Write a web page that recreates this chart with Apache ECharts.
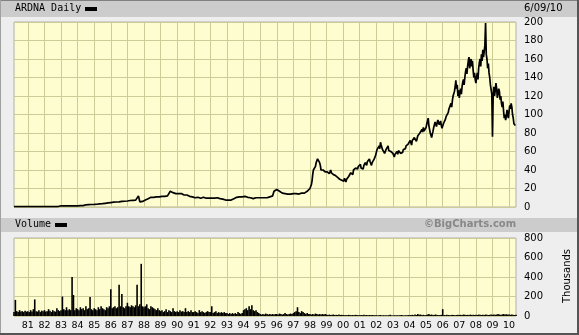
<!DOCTYPE html>
<html><head><meta charset="utf-8">
<script src="https://cdn.jsdelivr.net/npm/echarts@6/dist/echarts.min.js"></script>
<style>html,body{margin:0;padding:0;background:#eeeeee}#c{width:579px;height:335px}</style>
</head><body><div id="c"></div>
<script>
// Monthly categories Mar 1980 .. Jun 2010 (x axis), price monthly to 1997 then semi-monthly
const startYear = 1980, startMonth = 3, monthCount = 364;
const yearTickLabels = ['81','82','83','84','85','86','87','88','89','90','91','92','93','94','95','96','97','98','99','00','01','02','03','04','05','06','07','08','09','10'];
const priceYAxisTicks = [0,20,40,60,80,100,120,140,160,180,200];
const volumeYAxisTicks = [0,200,400,600,800];

// monthly closes, Mar 1980 .. Dec 1997
const priceMonthly = [
  0.5,0.5,0.5,0.5,0.5,0.5,0.5,0.5,0.5,0.5,
  0.5,0.5,0.5,0.5,0.5,0.5,0.5,0.5,0.5,0.5,0.5,0.5,
  0.5,0.5,0.5,0.5,0.5,0.5,0.5,0.5,0.5,0.5,0.5,1.2,
  1.3,1.3,1.3,1.3,1.3,1.3,1.3,1.3,1.3,1.3,1.3,1.3,
  1.3,1.3,1.4,1.5,1.5,2.2,2.4,2.5,2.6,2.6,2.7,2.8,
  2.8,3.0,3.0,3.2,3.4,3.5,3.6,3.8,4.0,4.2,4.4,4.6,
  4.8,5.0,5.2,5.0,5.4,5.6,5.5,5.8,6.0,5.8,6.2,6.4,
  6.5,6.8,7.0,6.8,7.2,7.5,7.4,8.0,12.0,5.5,5.5,6.0,
  6.5,7.5,8,9,10,10.5,10,10.5,11,11,10.5,11,
  11,11.5,11,11.5,12,12,14,17,16,15.5,15,14.5,
  15,14.5,14,14.5,13.5,13,12.5,13,12,11.5,11,11,
  10.5,10,10,10.5,10,9.5,10,10.5,10,9.5,9.5,9.5,
  9.5,9.5,9,9.5,9,10,9.5,9,8.5,8.5,8,7.5,
  7.5,7.5,7,7.5,8,9,10,10.5,11,11,10.5,11,
  11,11.5,11,10.5,11,10,8.5,9,9.5,10,9.5,10,
  10,10,10.5,10,10.5,10,10,11,11,12,17,18,
  19,18,17,16,15,14,14.5,14,14,14,14,14.5,
  14.5,14,14.5,14.5,14,14.5,15,15.5,15,16,17,18
];
// semi-monthly values, Jan 1998 .. early Jun 2010
const priceSemi1998to2003 = [
  20,22,24,28, 35,40,42,38, 44,48,46,52, 54,50,48,45, 40,42,38,40, 42,40,38,40,
  40,38,37,39, 36,38,40,37, 38,36,35,37, 36,34,35,33, 32,34,31,30, 32,30,29,31,
  30,28,31,29, 27,30,32,30, 33,35,34,37, 36,38,35,40, 41,39,42,44, 43,41,44,42,
  44,46,42,40, 43,41,45,47, 48,46,45,49, 50,48,52,49, 47,45,48,46, 50,52,54,56,
  58,62,64,60, 66,63,70,67, 65,62,60,63, 58,60,62,64, 63,66,61,59, 62,60,58,61,
  58,56,54,57, 55,58,60,57, 61,59,62,58, 57,60,59,62, 64,61,63,66, 64,67,68,66
];
const priceSemi2004to2010 = [
  69,72,70,67, 72,74,71,75, 76,73,71,74, 77,79,76,80, 82,79,84,81, 86,82,80,83,
  86,90,93,96, 88,84,80,78, 75,79,82,86, 88,92,90,87, 91,94,92,89, 90,93,88,85,
  86,90,88,92, 95,98,100,96, 102,106,104,108, 112,108,115,120, 118,125,130,137, 128,132,120,126,
  118,124,128,122, 130,135,138,132, 140,146,150,144, 152,158,162,150, 155,160,152,158, 148,140,145,138,
  134,140,145,138, 150,156,160,152, 165,158,170,162, 168,175,199,165, 160,150,155,145, 140,132,130,122,
  76,120,130,120, 126,134,128,118, 122,128,125,116, 120,112,108,114, 104,96,100,94, 98,105,100,96,
  104,110,106,112,108,100,96,90,92,88,88
];

const volume1980s = [
  40,165,50,40,60,45,50,40,55,45,
  50,40,60,45,70,170,50,45,60,40,55,50,
  60,45,50,70,55,40,60,50,45,80,60,50,
  60,200,70,60,90,60,70,60,400,215,60,80,
  70,60,90,70,80,60,100,70,80,195,70,60,
  80,70,60,90,70,100,80,70,60,90,80,100,
  275,80,90,100,80,90,320,100,225,90,80,100,
  135,100,90,110,100,90,110,320,100,120,535,100,
  90,100,120,80,70,100,90,80,70,60,80,60,
  50,60,40,50,70,40,60,50,40,80,50,40
];
const volume1990s = [
  50,40,60,45,50,40,80,40,50,40,60,40,
  40,50,40,30,60,40,50,40,30,40,50,40,
  40,100,30,40,50,30,40,30,40,30,40,30,
  30,20,30,20,30,20,30,20,40,30,20,30,
  60,70,80,60,100,70,110,60,50,60,40,30,
  20,15,20,15,25,20,15,20,15,20,15,20,
  20,15,25,20,15,20,30,20,15,20,25,20,
  30,40,50,90,40,30,50,40,30,20,30,20,
  20,15,20,15,25,20,15,20,15,20,15,20,
  15,10,15,10,12,15,10,12,10,15,10,12
];
const volume2000s = [
  10,8,10,8,12,10,8,10,8,12,10,8,
  8,10,8,12,8,10,8,10,8,10,8,8,
  8,6,8,10,6,8,6,8,6,8,12,6,
  6,8,6,8,6,8,10,8,6,8,6,10,
  8,10,12,8,15,10,20,12,15,10,12,8,
  10,15,20,12,15,10,12,15,10,8,10,12,
  70,10,8,12,10,8,10,12,10,8,10,12,
  10,12,10,15,12,10,12,10,15,10,12,10,
  12,10,15,12,10,12,10,15,12,10,12,15,
  12,15,12,15,20,15,12,15,20,15,18,15
];
const volume2010s = [15,12,15,12,10,12];

const volume = [].concat(volume1980s, volume1990s, volume2000s, volume2010s);
const semi = [].concat(priceSemi1998to2003, priceSemi2004to2010);
const pricePoints = priceMonthly.map((v, i) => [i, v])
  .concat(semi.map((v, j) => [priceMonthly.length + j / 2, v]));

const months = [];
for (let i = 0; i < monthCount; i++) {
  const m = startMonth - 1 + i;
  const y = startYear + Math.floor(m / 12);
  const mm = (m % 12) + 1;
  months.push(y + '-' + (mm < 10 ? '0' + mm : '' + mm));
}
const isJan = (idx, val) => val.slice(5) === '01';
const yearLabel = v => { const s = v.slice(2, 4); return yearTickLabels.indexOf(s) >= 0 ? s : ''; };

const gridColor = '#cccc99';
const plotBg = '#fdfdcf';
const fontF = 'DejaVu Sans';

const chart = echarts.init(document.getElementById('c'));
chart.setOption({
  backgroundColor: '#eeeeee',
  animation: false,
  grid: [
    {left: 14, top: 22, width: 502, height: 185, show: true, backgroundColor: plotBg, borderColor: '#b0b0b0', borderWidth: 1},
    {left: 14, top: 238, width: 502, height: 78, show: true, backgroundColor: plotBg, borderColor: '#b0b0b0', borderWidth: 1}
  ],
  xAxis: [
    {type: 'category', gridIndex: 0, data: months, boundaryGap: false,
     axisLine: {show: false}, axisTick: {show: false}, axisLabel: {show: false},
     splitLine: {show: true, interval: isJan, lineStyle: {color: gridColor, width: 1}}},
    {type: 'category', gridIndex: 1, data: months, boundaryGap: false,
     axisLine: {show: false}, axisTick: {show: false},
     axisLabel: {show: true, interval: isJan, formatter: yearLabel, margin: 5, color: '#000', fontFamily: fontF, fontSize: 9.5},
     splitLine: {show: true, interval: isJan, lineStyle: {color: gridColor, width: 1}}},
    {type: 'value', gridIndex: 0, min: 0, max: monthCount - 1, show: false}
  ],
  yAxis: [
    {type: 'value', gridIndex: 0, position: 'right', min: priceYAxisTicks[0], max: priceYAxisTicks[priceYAxisTicks.length-1], interval: 20,
     axisLine: {show: false}, axisTick: {show: false},
     axisLabel: {margin: 8, color: '#000', fontFamily: fontF, fontSize: 10},
     splitLine: {lineStyle: {color: gridColor, width: 1}}},
    {type: 'value', gridIndex: 1, position: 'right', min: volumeYAxisTicks[0], max: volumeYAxisTicks[volumeYAxisTicks.length-1], interval: 200,
     axisLine: {show: false}, axisTick: {show: false},
     axisLabel: {margin: 8, color: '#000', fontFamily: fontF, fontSize: 10},
     splitLine: {lineStyle: {color: gridColor, width: 1}}}
  ],
  series: [
    {type: 'line', xAxisIndex: 2, yAxisIndex: 0, data: pricePoints, showSymbol: false, symbol: 'none',
     lineStyle: {color: '#000', width: 1.7}},
    {type: 'bar', xAxisIndex: 1, yAxisIndex: 1, data: volume, barWidth: 1.6, barGap: '0%',
     itemStyle: {color: '#000'}}
  ],
  graphic: [
    {type: 'rect', shape: {x: 0, y: 0, width: 579, height: 1}, style: {fill: '#808080'}},
    {type: 'rect', shape: {x: 0, y: 1, width: 577, height: 16}, style: {fill: '#cccccc'}},
    {type: 'rect', shape: {x: 0, y: 218, width: 577, height: 14}, style: {fill: '#cccccc'}},
    {type: 'rect', shape: {x: 0, y: 0, width: 1, height: 335}, style: {fill: '#a0a0a0'}},
    {type: 'rect', shape: {x: 577, y: 0, width: 2, height: 335}, style: {fill: '#555555'}},
    {type: 'rect', shape: {x: 0, y: 333, width: 579, height: 2}, style: {fill: '#555555'}},
    {type: 'text', left: 15, top: 3, style: {text: 'ARDNA Daily', font: '10px "DejaVu Sans Mono"', fill: '#000'}},
    {type: 'rect', shape: {x: 85, y: 7, width: 12, height: 4}, style: {fill: '#000'}},
    {type: 'text', left: 524, top: 3, style: {text: '6/09/10', font: '10px "DejaVu Sans"', fill: '#000'}},
    {type: 'text', left: 15, top: 219, style: {text: 'Volume', font: '10px "DejaVu Sans Mono"', fill: '#000'}},
    {type: 'rect', shape: {x: 55, y: 223, width: 12, height: 4}, style: {fill: '#000'}},
    {type: 'text', left: 424, top: 219, style: {text: '©BigCharts.com', font: 'bold 10px "DejaVu Sans"', fill: '#888888'}},
    {type: 'text', x: 567, y: 276, rotation: Math.PI / 2, style: {text: 'Thousands', font: '10px "DejaVu Sans"', fill: '#000', align: 'center', verticalAlign: 'middle'}}
  ]
});
</script></body></html>
